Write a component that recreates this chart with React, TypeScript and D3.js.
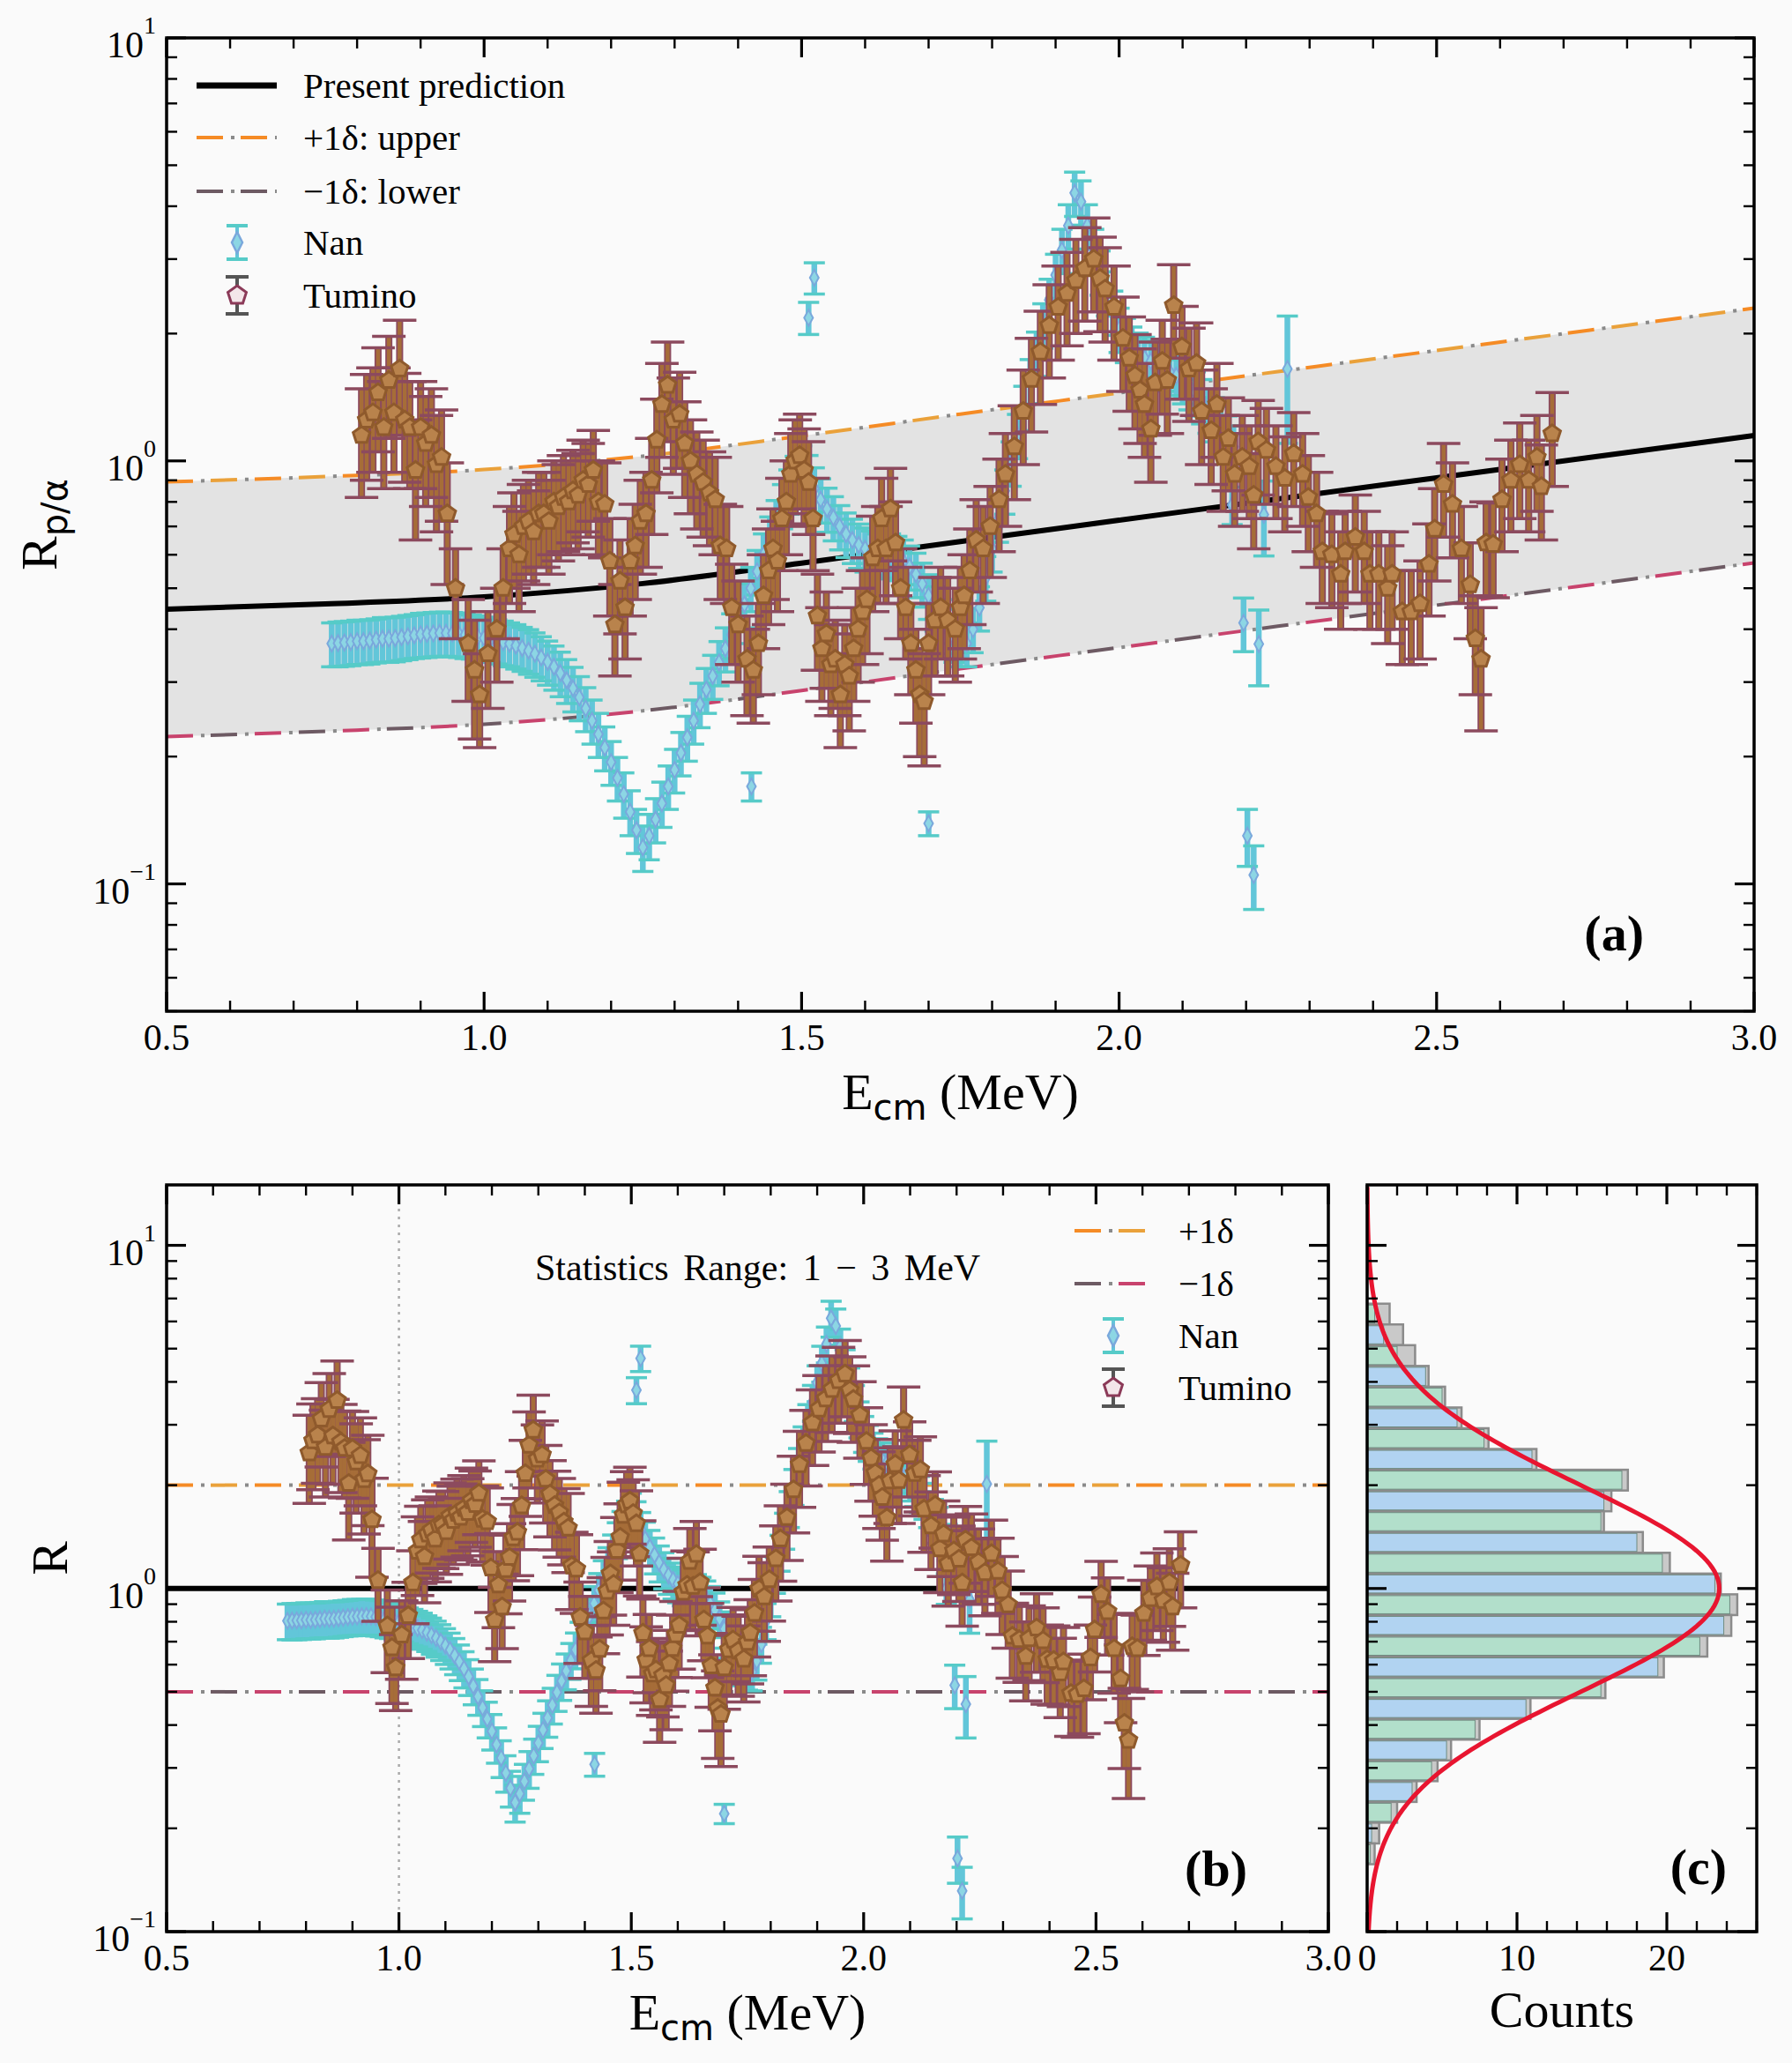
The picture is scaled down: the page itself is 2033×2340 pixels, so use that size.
import React from "react";
import * as d3 from "d3";

// ---------- values ----------
// theory curve (present prediction) and its +/-1 delta bounds, top panel
const predE = [0.5, 0.75, 1.0, 1.25, 1.5, 1.75, 2.0, 2.25, 2.5, 2.75, 3.0];
const predV = [0.446, 0.459, 0.477, 0.513, 0.573, 0.645, 0.724, 0.813, 0.912, 1.023, 1.148];
const upperV = [0.892, 0.918, 0.954, 1.026, 1.146, 1.29, 1.448, 1.626, 1.824, 2.046, 2.296];
const lowerV = [0.223, 0.2295, 0.2385, 0.2565, 0.2865, 0.3225, 0.362, 0.4065, 0.456, 0.5115, 0.574];

// [E_cm, R_p/alpha, error]
const nanPoints: [number, number, number][] = [
  [0.76, 0.37, 0.044], [0.77, 0.371, 0.045], [0.78, 0.372, 0.045], [0.79, 0.373, 0.045],
  [0.8, 0.375, 0.045], [0.81, 0.375, 0.045], [0.82, 0.376, 0.045], [0.83, 0.378, 0.045],
  [0.84, 0.38, 0.046], [0.85, 0.38, 0.046], [0.86, 0.381, 0.046], [0.87, 0.383, 0.046],
  [0.88, 0.385, 0.046], [0.89, 0.387, 0.046], [0.9, 0.389, 0.047], [0.91, 0.39, 0.047],
  [0.92, 0.391, 0.047], [0.93, 0.392, 0.047], [0.94, 0.392, 0.047], [0.95, 0.391, 0.047],
  [0.96, 0.39, 0.047], [0.97, 0.388, 0.047], [0.98, 0.386, 0.046], [0.99, 0.384, 0.046],
  [1.0, 0.381, 0.046], [1.01, 0.379, 0.045], [1.02, 0.376, 0.045], [1.03, 0.373, 0.045],
  [1.04, 0.37, 0.044], [1.05, 0.366, 0.044], [1.06, 0.361, 0.043], [1.07, 0.356, 0.043],
  [1.08, 0.35, 0.042], [1.09, 0.343, 0.041], [1.1, 0.335, 0.04], [1.11, 0.326, 0.039],
  [1.12, 0.315, 0.038], [1.13, 0.303, 0.036], [1.14, 0.29, 0.035], [1.15, 0.276, 0.033],
  [1.16, 0.26, 0.031], [1.17, 0.243, 0.029], [1.18, 0.226, 0.027], [1.19, 0.21, 0.025],
  [1.2, 0.194, 0.023], [1.21, 0.178, 0.021], [1.22, 0.163, 0.02], [1.23, 0.148, 0.018],
  [1.24, 0.134, 0.016], [1.25, 0.122, 0.015], [1.26, 0.13, 0.016], [1.27, 0.142, 0.017],
  [1.28, 0.155, 0.019], [1.29, 0.17, 0.02], [1.3, 0.186, 0.022], [1.31, 0.204, 0.024],
  [1.32, 0.222, 0.027], [1.33, 0.243, 0.029], [1.34, 0.266, 0.032], [1.35, 0.288, 0.035],
  [1.36, 0.31, 0.037], [1.37, 0.334, 0.04], [1.38, 0.36, 0.043], [1.39, 0.388, 0.047],
  [1.4, 0.42, 0.05], [1.41, 0.458, 0.055], [1.42, 0.5, 0.06], [1.43, 0.548, 0.066],
  [1.44, 0.6, 0.072], [1.45, 0.658, 0.079], [1.46, 0.72, 0.086], [1.47, 0.785, 0.094],
  [1.48, 0.85, 0.102], [1.49, 0.915, 0.11], [1.5, 0.97, 0.116], [1.51, 0.92, 0.11],
  [1.52, 0.86, 0.103], [1.53, 0.81, 0.097], [1.54, 0.77, 0.092], [1.55, 0.735, 0.088],
  [1.56, 0.7, 0.084], [1.57, 0.672, 0.081], [1.58, 0.65, 0.078], [1.59, 0.633, 0.076],
  [1.6, 0.62, 0.074], [1.61, 0.61, 0.073], [1.62, 0.6, 0.072], [1.63, 0.598, 0.072],
  [1.64, 0.6, 0.072], [1.65, 0.592, 0.071], [1.66, 0.58, 0.07], [1.67, 0.562, 0.067],
  [1.68, 0.54, 0.065], [1.69, 0.512, 0.061], [1.7, 0.48, 0.058], [1.71, 0.45, 0.054],
  [1.72, 0.42, 0.05], [1.73, 0.398, 0.048], [1.74, 0.38, 0.046], [1.75, 0.37, 0.044],
  [1.76, 0.37, 0.044], [1.77, 0.4, 0.048], [1.78, 0.45, 0.054], [1.79, 0.53, 0.064],
  [1.8, 0.62, 0.074], [1.81, 0.73, 0.088], [1.82, 0.85, 0.102], [1.83, 0.99, 0.119],
  [1.84, 1.15, 0.138], [1.85, 1.34, 0.161], [1.86, 1.55, 0.186], [1.87, 1.8, 0.216],
  [1.88, 2.1, 0.252], [1.89, 2.4, 0.288], [1.9, 2.75, 0.33], [1.91, 3.15, 0.378],
  [1.92, 3.6, 0.432], [1.93, 4.3, 0.516], [1.94, 4.1, 0.492], [1.95, 3.6, 0.432],
  [1.96, 3.15, 0.378], [1.97, 2.8, 0.336], [1.98, 2.5, 0.3], [1.99, 2.25, 0.27],
  [2.0, 2.05, 0.246], [2.01, 1.94, 0.233], [2.02, 1.85, 0.222], [2.03, 1.79, 0.215],
  [2.04, 1.75, 0.21], [2.05, 1.72, 0.206], [2.06, 1.7, 0.204], [2.07, 1.66, 0.199],
  [2.08, 1.62, 0.194], [2.09, 1.59, 0.191], [2.1, 1.55, 0.186], [2.11, 1.5, 0.18],
  [2.12, 1.45, 0.174], [2.13, 1.39, 0.167], [2.14, 1.32, 0.158], [2.15, 1.26, 0.151],
  [2.16, 1.2, 0.144], [2.17, 1.14, 0.137], [2.18, 1.08, 0.13],
  [1.421, 0.17, 0.013], [1.511, 2.18, 0.19], [1.52, 2.71, 0.23], [1.7, 0.139, 0.009],
  [2.178, 0.787, 0.08], [2.196, 0.414, 0.06], [2.202, 0.13, 0.02], [2.212, 0.105, 0.018],
  [2.22, 0.369, 0.075], [2.228, 0.746, 0.15], [2.265, 1.65, 0.55],
];

const tuminoPoints: [number, number, number][] = [
  [0.807, 1.15, 0.33], [0.815, 1.25, 0.35], [0.825, 1.3, 0.36], [0.833, 1.45, 0.4],
  [0.842, 1.2, 0.34], [0.85, 1.55, 0.42], [0.858, 1.3, 0.36], [0.867, 1.65, 0.5],
  [0.875, 1.25, 0.36], [0.883, 1.2, 0.34], [0.892, 0.95, 0.3], [0.9, 1.2, 0.34],
  [0.908, 1.1, 0.32], [0.917, 1.15, 0.33], [0.925, 0.98, 0.3], [0.933, 1.02, 0.3],
  [0.942, 0.75, 0.24], [0.955, 0.5, 0.12], [0.975, 0.37, 0.1], [0.985, 0.32, 0.1],
  [0.993, 0.28, 0.07], [1.006, 0.35, 0.09], [1.02, 0.4, 0.1], [1.03, 0.5, 0.12],
  [1.04, 0.62, 0.16], [1.047, 0.67, 0.17], [1.055, 0.6, 0.16], [1.062, 0.7, 0.18],
  [1.07, 0.72, 0.18], [1.078, 0.68, 0.17], [1.086, 0.75, 0.19], [1.094, 0.75, 0.19],
  [1.102, 0.72, 0.18], [1.11, 0.8, 0.2], [1.117, 0.78, 0.2], [1.125, 0.82, 0.21],
  [1.133, 0.8, 0.2], [1.14, 0.85, 0.21], [1.148, 0.83, 0.21], [1.156, 0.9, 0.22],
  [1.164, 0.88, 0.22], [1.172, 0.95, 0.23], [1.18, 0.8, 0.2], [1.19, 0.79, 0.2],
  [1.198, 0.58, 0.15], [1.206, 0.41, 0.1], [1.214, 0.52, 0.13], [1.222, 0.45, 0.11],
  [1.23, 0.58, 0.15], [1.238, 0.63, 0.16], [1.246, 0.72, 0.18], [1.255, 0.75, 0.19],
  [1.264, 0.9, 0.23], [1.272, 1.12, 0.28], [1.28, 1.36, 0.34], [1.289, 1.51, 0.4],
  [1.298, 1.25, 0.32], [1.308, 1.29, 0.33], [1.316, 1.1, 0.28], [1.325, 1.0, 0.25],
  [1.335, 0.93, 0.24], [1.345, 0.89, 0.23], [1.355, 0.84, 0.21], [1.364, 0.81, 0.21],
  [1.372, 0.63, 0.16], [1.382, 0.62, 0.16], [1.39, 0.45, 0.12], [1.4, 0.41, 0.11],
  [1.414, 0.34, 0.09], [1.424, 0.32, 0.08], [1.432, 0.37, 0.09], [1.44, 0.48, 0.12],
  [1.448, 0.55, 0.14], [1.455, 0.62, 0.15], [1.462, 0.58, 0.14], [1.469, 0.73, 0.18],
  [1.476, 0.8, 0.2], [1.483, 0.93, 0.23], [1.49, 1.0, 0.25], [1.497, 1.03, 0.26],
  [1.504, 0.95, 0.24], [1.511, 0.89, 0.22], [1.518, 0.73, 0.18], [1.525, 0.43, 0.11],
  [1.532, 0.36, 0.09], [1.539, 0.39, 0.1], [1.546, 0.33, 0.08], [1.553, 0.34, 0.08],
  [1.561, 0.28, 0.07], [1.568, 0.33, 0.08], [1.575, 0.31, 0.08], [1.582, 0.36, 0.09],
  [1.589, 0.4, 0.1], [1.596, 0.44, 0.11], [1.603, 0.47, 0.12], [1.612, 0.59, 0.15],
  [1.62, 0.62, 0.16], [1.626, 0.73, 0.18], [1.633, 0.62, 0.16], [1.64, 0.77, 0.19],
  [1.648, 0.64, 0.16], [1.656, 0.5, 0.12], [1.664, 0.45, 0.11], [1.672, 0.37, 0.09],
  [1.68, 0.32, 0.08], [1.686, 0.28, 0.08], [1.693, 0.27, 0.08], [1.7, 0.37, 0.09],
  [1.71, 0.42, 0.11], [1.719, 0.45, 0.11], [1.73, 0.42, 0.11], [1.742, 0.4, 0.1],
  [1.75, 0.45, 0.11], [1.756, 0.48, 0.12], [1.765, 0.55, 0.14], [1.775, 0.65, 0.16],
  [1.786, 0.62, 0.16], [1.797, 0.7, 0.17], [1.811, 0.81, 0.2], [1.821, 0.93, 0.23],
  [1.835, 1.08, 0.27], [1.849, 1.31, 0.33], [1.862, 1.56, 0.39], [1.876, 1.81, 0.45],
  [1.89, 2.09, 0.52], [1.904, 2.31, 0.58], [1.918, 2.49, 0.62], [1.932, 2.67, 0.67],
  [1.946, 2.85, 0.71], [1.96, 3.0, 0.75], [1.97, 2.7, 0.68], [1.978, 2.55, 0.64],
  [1.992, 2.31, 0.58], [2.006, 1.95, 0.49], [2.016, 1.75, 0.44], [2.025, 1.59, 0.4],
  [2.033, 1.47, 0.37], [2.04, 1.36, 0.34], [2.05, 1.19, 0.3], [2.057, 1.53, 0.38],
  [2.068, 1.72, 0.43], [2.076, 1.55, 0.39], [2.086, 2.33, 0.58], [2.099, 1.86, 0.46],
  [2.11, 1.65, 0.41], [2.122, 1.7, 0.42], [2.13, 1.31, 0.33], [2.145, 1.18, 0.3],
  [2.154, 1.36, 0.34], [2.164, 1.02, 0.26], [2.172, 1.13, 0.28], [2.182, 0.93, 0.23],
  [2.194, 1.02, 0.26], [2.205, 0.97, 0.24], [2.212, 0.83, 0.21], [2.219, 1.11, 0.28],
  [2.232, 1.06, 0.27], [2.247, 0.97, 0.24], [2.261, 0.91, 0.23], [2.275, 1.04, 0.26],
  [2.289, 0.93, 0.23], [2.298, 0.82, 0.21], [2.311, 0.75, 0.19], [2.32, 0.61, 0.15],
  [2.335, 0.6, 0.15], [2.349, 0.54, 0.14], [2.356, 0.61, 0.15], [2.372, 0.66, 0.17],
  [2.386, 0.61, 0.15], [2.395, 0.54, 0.14], [2.409, 0.54, 0.14], [2.423, 0.5, 0.13],
  [2.43, 0.54, 0.14], [2.446, 0.44, 0.11], [2.46, 0.44, 0.11], [2.474, 0.46, 0.12],
  [2.488, 0.57, 0.14], [2.497, 0.69, 0.17], [2.511, 0.88, 0.22], [2.525, 0.79, 0.2],
  [2.539, 0.62, 0.16], [2.553, 0.51, 0.13], [2.561, 0.38, 0.1], [2.57, 0.34, 0.11],
  [2.578, 0.64, 0.16], [2.589, 0.635, 0.16], [2.603, 0.81, 0.2], [2.617, 0.9, 0.22],
  [2.631, 0.98, 0.25], [2.645, 0.9, 0.22], [2.658, 1.02, 0.26], [2.665, 0.87, 0.22],
  [2.682, 1.16, 0.29],
];

// ratio panel reference lines
const ratioOne = 1;
const ratioUp = 2;
const ratioLow = 0.5;
const statsStart = 1.0;

// histogram of log10(R), panel (c), bins listed from top (high R) to bottom
const histTopLog = 0.83;
const histBinLog = 0.0605;
const histAll = [1.5, 2.4, 3.2, 4.1, 5.2, 6.3, 8.1, 11.3, 17.4, 16.3, 15.8, 18.4, 20.2, 23.6,
  24.7, 24.3, 22.7, 19.8, 15.9, 10.9, 7.5, 5.6, 4.7, 3.3, 2.0, 0.8, 0.5];
const histColored = [0.5, 1.1, 2.0, 3.9, 5.0, 6.0, 7.8, 11.0, 17.0, 15.8, 15.6, 18.0, 19.7, 23.2,
  24.2, 23.8, 22.2, 19.4, 15.6, 10.6, 7.2, 5.3, 4.3, 3.0, 1.6, 0.3, 0.2];
// fitted gaussian in log10(R)
const gaussPeak = 23.5;
const gaussMean = 0.0;
const gaussSigma = 0.301;

// ---------- layout ----------
const W = 2033;
const H = 2340;
const SERIF = "'Liberation Serif', 'Times New Roman', serif";
const SANS = "'DejaVu Sans', sans-serif";
const A = { left: 189, right: 1990, top: 43, bottom: 1147 };
const B = { left: 189, right: 1507, top: 1344, bottom: 2191 };
const Cb = { left: 1551, right: 1993, top: 1344, bottom: 2191 };

const col = {
  bg: "#fafafa",
  band: "#e3e3e3",
  up: "#f58b25", upAlt: "#eaa13a",
  low: "#c8436d", lowAlt: "#6d5a63",
  dot: "#8a8a8a",
  nanBar: "#62c6d9", nanCap: "#56cbc8", nanEdge: "#7aa8dc", nanFace: "#8cd6e4",
  tumOuter: "#8c4a5e", tumBar: "#a66d38", tumEdge: "#8f5a2c", tumFace: "#b9834c",
  histGray: "#c9c9c9", histEdge: "#8b8b8b", histGreen: "#b2dfcb", histBlue: "#b1d3f1",
  gauss: "#e81530",
};

type Box = { left: number; right: number; top: number; bottom: number };
type Tick = { v: number; major: boolean };

const logTicks = (lo: number, hi: number): Tick[] => {
  const out: Tick[] = [];
  for (let d = -3; d <= 2; d++)
    for (let m = 1; m <= 9; m++) {
      const v = m * Math.pow(10, d);
      if (v >= lo * 0.999 && v <= hi * 1.001) out.push({ v, major: m === 1 });
    }
  return out;
};

const pentagonPath = (r: number) => {
  const p = d3.range(5).map((k) => {
    const a = -Math.PI / 2 + (k * 2 * Math.PI) / 5;
    return `${(r * Math.cos(a)).toFixed(2)},${(r * Math.sin(a)).toFixed(2)}`;
  });
  return "M" + p.join("L") + "Z";
};
const pentPath = pentagonPath(10);
const diamondPath = "M0,-9L5,0L0,9L-5,0Z";

function Frame({ box, xs, ys, xt, yt }: { box: Box; xs: any; ys: any; xt: Tick[]; yt: Tick[] }) {
  const lines: JSX.Element[] = [];
  xt.forEach((t, i) => {
    const p = xs(t.v);
    const L = t.major ? 22 : 12;
    const w = t.major ? 3.2 : 2.4;
    lines.push(<line key={"xb" + i} x1={p} x2={p} y1={box.bottom} y2={box.bottom - L} stroke="#000" strokeWidth={w} />);
    lines.push(<line key={"xt" + i} x1={p} x2={p} y1={box.top} y2={box.top + L} stroke="#000" strokeWidth={w} />);
  });
  yt.forEach((t, i) => {
    const p = ys(t.v);
    const L = t.major ? 22 : 12;
    const w = t.major ? 3.2 : 2.4;
    lines.push(<line key={"yl" + i} x1={box.left} x2={box.left + L} y1={p} y2={p} stroke="#000" strokeWidth={w} />);
    lines.push(<line key={"yr" + i} x1={box.right} x2={box.right - L} y1={p} y2={p} stroke="#000" strokeWidth={w} />);
  });
  return (
    <g>
      {lines}
      <rect x={box.left} y={box.top} width={box.right - box.left} height={box.bottom - box.top}
        fill="none" stroke="#000" strokeWidth={3.5} />
    </g>
  );
}

function DashDot({ d, a, b, w = 4 }: { d: string; a: string; b: string; w?: number }) {
  return (
    <g fill="none" strokeWidth={w}>
      <path d={d} stroke={a} strokeDasharray="30 70" />
      <path d={d} stroke={b} strokeDasharray="30 70" strokeDashoffset={-50} />
      <path d={d} stroke={col.dot} strokeDasharray="4 46" strokeDashoffset={-39} />
    </g>
  );
}

function NanSeries({ pts, xs, ys }: { pts: [number, number, number][]; xs: any; ys: any }) {
  const d = pts.map(([e, v, s]) => ({ x: xs(e), y: ys(v), t: ys(v + s), b: ys(v - s) }));
  return (
    <g>
      {d.map((p, i) => <line key={"b" + i} x1={p.x} x2={p.x} y1={p.t} y2={p.b} stroke={col.nanBar} strokeWidth={6.5} />)}
      {d.map((p, i) => (
        <g key={"c" + i} stroke={col.nanCap} strokeWidth={3.5}>
          <line x1={p.x - 12} x2={p.x + 12} y1={p.t} y2={p.t} />
          <line x1={p.x - 12} x2={p.x + 12} y1={p.b} y2={p.b} />
        </g>
      ))}
      {d.map((p, i) => (
        <path key={"m" + i} d={diamondPath} transform={`translate(${p.x},${p.y})`}
          fill={col.nanFace} stroke={col.nanEdge} strokeWidth={2} />
      ))}
    </g>
  );
}

function TuminoSeries({ pts, xs, ys }: { pts: [number, number, number][]; xs: any; ys: any }) {
  const d = pts.map(([e, v, s]) => ({ x: xs(e), y: ys(v), t: ys(v + s), b: ys(v - s) }));
  return (
    <g>
      {d.map((p, i) => <line key={"o" + i} x1={p.x} x2={p.x} y1={p.t} y2={p.b} stroke={col.tumOuter} strokeWidth={8} />)}
      {d.map((p, i) => <line key={"i" + i} x1={p.x} x2={p.x} y1={p.t} y2={p.b} stroke={col.tumBar} strokeWidth={4.5} />)}
      {d.map((p, i) => (
        <g key={"c" + i} stroke={col.tumOuter} strokeWidth={3.5}>
          <line x1={p.x - 19} x2={p.x + 19} y1={p.t} y2={p.t} />
          <line x1={p.x - 19} x2={p.x + 19} y1={p.b} y2={p.b} />
        </g>
      ))}
      {d.map((p, i) => (
        <path key={"m" + i} d={pentPath} transform={`translate(${p.x},${p.y})`}
          fill={col.tumFace} stroke={col.tumEdge} strokeWidth={3} />
      ))}
    </g>
  );
}

function LegendNan({ x, y }: { x: number; y: number }) {
  return (
    <g>
      <line x1={x} x2={x} y1={y - 19} y2={y + 19} stroke={col.nanBar} strokeWidth={4} />
      <line x1={x - 12} x2={x + 12} y1={y - 19} y2={y - 19} stroke={col.nanCap} strokeWidth={4} />
      <line x1={x - 12} x2={x + 12} y1={y + 19} y2={y + 19} stroke={col.nanCap} strokeWidth={4} />
      <path d="M0,-12L6,0L0,12L-6,0Z" transform={`translate(${x},${y})`} fill={col.nanFace} stroke={col.nanEdge} strokeWidth={2.5} />
    </g>
  );
}

function LegendTumino({ x, y }: { x: number; y: number }) {
  return (
    <g>
      <line x1={x} x2={x} y1={y - 21} y2={y + 21} stroke="#555" strokeWidth={4} />
      <line x1={x - 13} x2={x + 13} y1={y - 21} y2={y - 21} stroke="#555" strokeWidth={4} />
      <line x1={x - 13} x2={x + 13} y1={y + 21} y2={y + 21} stroke="#555" strokeWidth={4} />
      <path d={pentagonPath(11)} transform={`translate(${x},${y})`} fill="#f3e6e9" stroke="#8b3a58" strokeWidth={3} />
    </g>
  );
}

function PowLabel({ x, y, exp }: { x: number; y: number; exp: string }) {
  return (
    <text x={x} y={y + 22} textAnchor="end" fontSize={42}>
      10<tspan dy={-27} fontSize={28}>{exp}</tspan>
    </text>
  );
}

function Ecm({ x, y }: { x: number; y: number }) {
  return (
    <text x={x} y={y} textAnchor="middle" fontSize={58}>
      E<tspan fontFamily={SANS} fontSize={40} dy={12}>cm</tspan>
      <tspan dy={-12}> (MeV)</tspan>
    </text>
  );
}

export default function App() {
  const xA = d3.scaleLinear().domain([0.5, 3]).range([A.left, A.right]);
  const yA = d3.scaleLog().domain([0.05, 10]).range([A.bottom, A.top]);
  const xB = d3.scaleLinear().domain([0.5, 3]).range([B.left, B.right]);
  const yB = d3.scaleLog().domain([0.1, 15]).range([B.bottom, B.top]);
  const xC = d3.scaleLinear().domain([0, 26]).range([Cb.left, Cb.right]);

  const curve = predE.map((e, i) => ({ e, p: predV[i], hi: upperV[i], lo: lowerV[i] }));
  const band = d3.area<any>().x((d) => xA(d.e)).y0((d) => yA(d.lo)).y1((d) => yA(d.hi)).curve(d3.curveMonotoneX)(curve) || "";
  const lineOf = (key: string) =>
    d3.line<any>().x((d) => xA(d.e)).y((d) => yA(d[key])).curve(d3.curveMonotoneX)(curve) || "";

  // ratio to the prediction, for panel (b)
  const predLog = d3.scaleLinear().domain(predE).range(predV.map(Math.log10));
  const toRatio = (pts: [number, number, number][]) =>
    pts.map(([e, v, s]) => {
      const p = Math.pow(10, predLog(e));
      return [e, v / p, s / p] as [number, number, number];
    });
  const nanR = toRatio(nanPoints);
  const tumR = toRatio(tuminoPoints);

  const xtE: Tick[] = d3.range(0, 26).map((i) => ({ v: 0.5 + i * 0.1, major: i % 5 === 0 }));
  const xtC: Tick[] = d3.range(0, 14).map((i) => ({ v: i * 2, major: (i * 2) % 10 === 0 }));
  const ytA = logTicks(0.05, 10);
  const ytB = logTicks(0.1, 15);
  const eLabels = d3.range(0, 6).map((i) => 0.5 + i * 0.5);

  const hline = (y: number, x0: number, x1: number) => `M${x0},${y}L${x1},${y}`;

  const gaussPts = d3.range(-1, 1.18, 0.01).map((l) => [
    xC(gaussPeak * Math.exp(-0.5 * Math.pow((l - gaussMean) / gaussSigma, 2))),
    yB(Math.pow(10, l)),
  ] as [number, number]);
  const gaussPath = d3.line()(gaussPts) || "";

  return (
    <svg width={W} height={H} style={{ position: "absolute", left: 0, top: 0 }} fontFamily={SERIF}>
      <rect width={W} height={H} fill={col.bg} />
      <defs>
        <clipPath id="clipA"><rect x={A.left} y={A.top} width={A.right - A.left} height={A.bottom - A.top} /></clipPath>
        <clipPath id="clipB"><rect x={B.left} y={B.top} width={B.right - B.left} height={B.bottom - B.top} /></clipPath>
        <clipPath id="clipC"><rect x={Cb.left} y={Cb.top} width={Cb.right - Cb.left} height={Cb.bottom - Cb.top} /></clipPath>
      </defs>

      {/* ---------- panel (a) ---------- */}
      <g clipPath="url(#clipA)">
        <path d={band} fill={col.band} />
        <DashDot d={lineOf("hi")} a={col.up} b={col.upAlt} />
        <DashDot d={lineOf("lo")} a={col.low} b={col.lowAlt} />
        <path d={lineOf("p")} fill="none" stroke="#000" strokeWidth={6} />
        <NanSeries pts={nanPoints} xs={xA} ys={yA} />
        <TuminoSeries pts={tuminoPoints} xs={xA} ys={yA} />
      </g>
      <Frame box={A} xs={xA} ys={yA} xt={xtE} yt={ytA} />
      {eLabels.map((v) => (
        <text key={"la" + v} x={xA(v)} y={A.bottom + 44} textAnchor="middle" fontSize={42}>{v.toFixed(1)}</text>
      ))}
      <PowLabel x={A.left - 12} y={yA(10)} exp="1" />
      <PowLabel x={A.left - 12} y={yA(1)} exp="0" />
      <PowLabel x={A.left - 12} y={yA(0.1)} exp="−1" />
      <Ecm x={(A.left + A.right) / 2} y={1258} />
      <text transform={`translate(64,${(A.top + A.bottom) / 2}) rotate(-90)`} textAnchor="middle" fontSize={58}>
        R<tspan fontFamily={SANS} fontSize={40} dy={12}>p/α</tspan>
      </text>
      <text x={1865} y={1078} textAnchor="end" fontSize={58} fontWeight="bold">(a)</text>

      {/* legend (a) */}
      <g fontSize={41}>
        <line x1={223} x2={314} y1={97} y2={97} stroke="#000" strokeWidth={7} />
        <text x={344} y={111}>Present prediction</text>
        <DashDot d={hline(156, 223, 314)} a={col.up} b={col.up} />
        <text x={344} y={170}>+1δ: upper</text>
        <DashDot d={hline(217, 223, 314)} a={col.lowAlt} b={col.lowAlt} />
        <text x={344} y={231}>−1δ: lower</text>
        <LegendNan x={269} y={275} />
        <text x={344} y={289}>Nan</text>
        <LegendTumino x={269} y={335} />
        <text x={344} y={349}>Tumino</text>
      </g>

      {/* ---------- panel (b) ---------- */}
      <g clipPath="url(#clipB)">
        <line x1={xB(statsStart)} x2={xB(statsStart)} y1={B.top} y2={B.bottom} stroke="#aaa" strokeWidth={2.5} strokeDasharray="3 6" />
        <path d={hline(yB(ratioOne), B.left, B.right)} stroke="#000" strokeWidth={6} />
        <DashDot d={hline(yB(ratioUp), B.left, B.right)} a={col.up} b={col.upAlt} />
        <DashDot d={hline(yB(ratioLow), B.left, B.right)} a={col.low} b={col.lowAlt} />
        <NanSeries pts={nanR} xs={xB} ys={yB} />
        <TuminoSeries pts={tumR} xs={xB} ys={yB} />
      </g>
      <Frame box={B} xs={xB} ys={yB} xt={xtE} yt={ytB} />
      {eLabels.map((v) => (
        <text key={"lb" + v} x={xB(v)} y={B.bottom + 44} textAnchor="middle" fontSize={42}>{v.toFixed(1)}</text>
      ))}
      <PowLabel x={B.left - 12} y={yB(10)} exp="1" />
      <PowLabel x={B.left - 12} y={yB(1)} exp="0" />
      <PowLabel x={B.left - 12} y={yB(0.1)} exp="−1" />
      <Ecm x={(B.left + B.right) / 2} y={2302} />
      <text transform={`translate(76,${(B.top + B.bottom) / 2}) rotate(-90)`} textAnchor="middle" fontSize={58}>R</text>
      <text x={607} y={1452} fontSize={42} wordSpacing={6}>Statistics Range: 1 − 3 MeV</text>
      <text x={1415} y={2139} textAnchor="end" fontSize={58} fontWeight="bold">(b)</text>

      {/* legend (b) */}
      <g fontSize={41}>
        <DashDot d={hline(1396, 1219, 1304)} a={col.up} b={col.upAlt} />
        <text x={1337} y={1410}>+1δ</text>
        <DashDot d={hline(1456, 1219, 1304)} a={col.lowAlt} b={col.low} />
        <text x={1337} y={1470}>−1δ</text>
        <LegendNan x={1263} y={1515} />
        <text x={1337} y={1529}>Nan</text>
        <LegendTumino x={1263} y={1574} />
        <text x={1337} y={1588}>Tumino</text>
      </g>

      {/* ---------- panel (c) ---------- */}
      <g clipPath="url(#clipC)">
        {histAll.map((n, i) => {
          const top = yB(Math.pow(10, histTopLog - histBinLog * i));
          const bot = yB(Math.pow(10, histTopLog - histBinLog * (i + 1)));
          return (
            <rect key={"hg" + i} x={xC(0)} y={top} width={xC(n) - xC(0)} height={bot - top}
              fill={col.histGray} stroke={col.histEdge} strokeWidth={2.5} />
          );
        })}
        {histColored.map((n, i) => {
          const top = yB(Math.pow(10, histTopLog - histBinLog * i));
          const bot = yB(Math.pow(10, histTopLog - histBinLog * (i + 1)));
          return (
            <rect key={"hc" + i} x={xC(0)} y={top + 1.5} width={xC(n) - xC(0)} height={bot - top - 3}
              fill={i % 2 === 1 ? col.histBlue : col.histGreen} stroke="#6f8a80" strokeWidth={1} />
          );
        })}
        <path d={gaussPath} fill="none" stroke={col.gauss} strokeWidth={5} />
      </g>
      <Frame box={Cb} xs={xC} ys={yB} xt={xtC} yt={ytB} />
      {[0, 10, 20].map((v) => (
        <text key={"lc" + v} x={xC(v)} y={Cb.bottom + 44} textAnchor="middle" fontSize={42}>{v}</text>
      ))}
      <text x={(Cb.left + Cb.right) / 2} y={2299} textAnchor="middle" fontSize={58}>Counts</text>
      <text x={1959} y={2137} textAnchor="end" fontSize={58} fontWeight="bold">(c)</text>
    </svg>
  );
}
